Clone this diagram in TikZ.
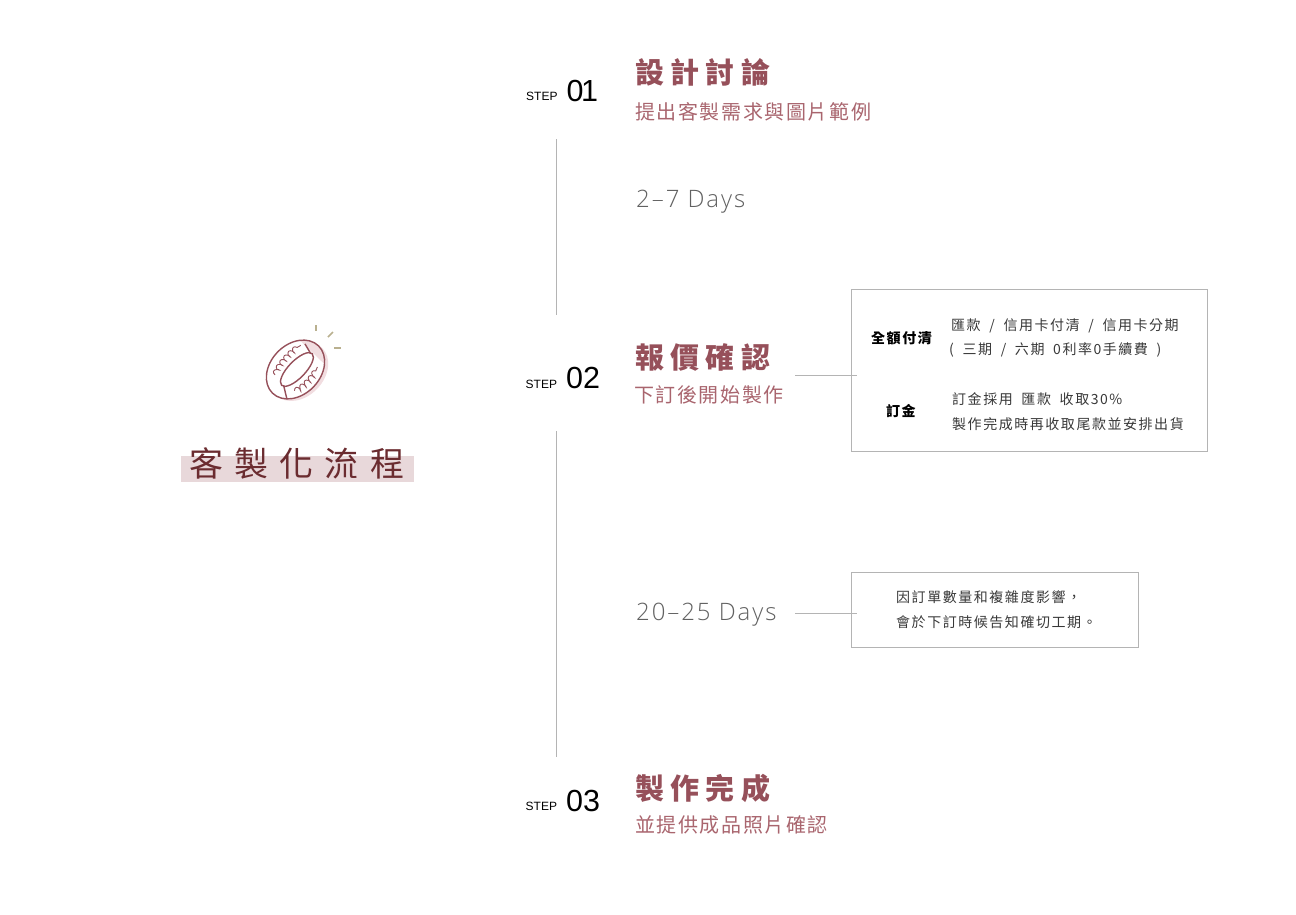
\documentclass[tikz,border=0pt]{standalone}
\usepackage{fontspec}
\usetikzlibrary{decorations.pathmorphing}
\setmainfont{Liberation Sans}
\newfontfamily\cjkhead[LetterSpace=22]{Noto Sans CJK TC}
\newfontfamily\cjksub[LetterSpace=8]{Noto Sans CJK TC}
\newfontfamily\cjkbox[LetterSpace=11]{Noto Sans CJK TC}
\newfontfamily\cjktitle[LetterSpace=33]{Noto Sans CJK TC}
\newfontfamily\daysfont[LetterSpace=8]{Open Sans Light}
\definecolor{wine}{HTML}{96505A}
\definecolor{winelight}{HTML}{A9656E}
\definecolor{winedark}{HTML}{6B2C30}
\definecolor{band}{HTML}{E8D8DA}
\definecolor{rule}{HTML}{B4B4B4}
\definecolor{ringpink}{HTML}{F1DDE0}
\definecolor{spark}{HTML}{B9B08F}
\tikzset{
  txt/.style={inner sep=0pt,anchor=west},
  steplab/.style={txt,font=\fontsize{12}{12}\selectfont},
  stepnum/.style={txt,font=\fontsize{30.5}{30}\selectfont},
  headlab/.style={txt,text=wine,font=\cjkhead\bfseries\fontsize{29}{29}\selectfont},
  sublab/.style={txt,text=winelight,font=\cjksub\fontsize{20}{20}\selectfont},
  dayslab/.style={txt,text=black!62,font=\daysfont\fontsize{24}{24}\selectfont},
  boxlab/.style={txt,text=black!78,font=\cjkbox\fontsize{14}{14}\selectfont},
  boxhead/.style={txt,font=\cjkbox\bfseries\fontsize{14}{14}\selectfont},
  framebox/.style={draw=rule,line width=.9pt},
  ruleline/.style={draw=rule,line width=1pt},
  thinline/.style={draw=rule,line width=.7pt},
  ringline/.style={draw=wine,line width=1.4pt},
  wavy/.style={wine,line width=.9pt,decorate,decoration={coil,aspect=.5,segment length=6pt,amplitude=2.6pt}},
}
\newcommand{\gap}{\hspace{4pt}}
\begin{document}
\begin{tikzpicture}[x=1pt,y=-1pt]
    \useasboundingbox (0,0) rectangle (1296,914);

    % left side
    \fill [band] (181,456) rectangle (414,482);
    \node [txt,text=winedark,font=\cjktitle\fontsize{34}{34}\selectfont] (title) at (189,463) {客製化流程};

    % ring
    \begin{scope}[shift={(295.5,369.5)},rotate=46]
        \fill [ringpink] (1,4) ellipse (33 and 25);
        \fill [white] (0,0) ellipse (33 and 25);
        \begin{scope}
            \clip (0,0) ellipse (33 and 25);
            \fill [ringpink] (24,-25) rectangle (35,25);
        \end{scope}
        \draw [ringline] (0,0) ellipse (33 and 25);
        \draw [ringline,fill=white] (1,1) ellipse (22 and 8.5);
        \draw [ringline] (25,-11) -- (22,0);
        \draw [ringline] (-27,14) -- (-20,3);
        \draw [wavy] (-18,-11) .. controls (-8,-16) and (10,-16) .. (21,-13);
        \draw [wavy] (-16,14) .. controls (-8,18) and (6,18) .. (17,14);
    \end{scope}
    \draw [spark,line width=1.5pt] (316,325) -- (316,331);
    \draw [spark,line width=1.5pt] (328,337) -- (333,332);
    \draw [spark,line width=1.5pt] (334,348) -- (341,348);

    % steps
    \node [steplab] (s1) at (526,96.5) {STEP};
    \node [stepnum] (n1) at (566.5,91) {0\kern-2.5pt 1};
    \node [headlab] (h1) at (635,72) {設計討論};
    \node [sublab]  (d1) at (635,112) {提出客製需求與圖片範例};

    \node [steplab] (s2) at (525.5,384) {STEP};
    \node [stepnum] (n2) at (566,378) {02};
    \node [headlab] (h2) at (635,357) {報價確認};
    \node [sublab]  (d2) at (634,395) {下訂後開始製作};

    \node [steplab] (s3) at (525.5,806.5) {STEP};
    \node [stepnum] (n3) at (566,801) {03};
    \node [headlab] (h3) at (635,788) {製作完成};
    \node [sublab]  (d3) at (635,825) {並提供成品照片確認};

    \node [dayslab] (t1) at (636,202) {2–7 Days};
    \node [dayslab] (t2) at (636,615) {20–25 Days};

    % time lines
    \coordinate (a1) at (556.5,139);
    \coordinate (a2) at (556.5,315);
    \coordinate (b1) at (556.5,431);
    \coordinate (b2) at (556.5,757);
    \draw [ruleline] (a1) -- (a2);
    \draw [ruleline] (b1) -- (b2);

    % boxes
    \node [framebox,minimum width=356pt,minimum height=161.5pt,inner sep=0pt,anchor=north west] (pay) at (851,289) {};
    \node [framebox,minimum width=287pt,minimum height=75pt,inner sep=0pt,anchor=north west] (note) at (851,572) {};

    \node [boxhead] (pa) at (871,338) {全額付清};
    \node [boxlab]  (pb) at (951,325.5) {匯款\gap{} /\gap{} 信用卡付清\gap{} /\gap{} 信用卡分期};
    \node [boxlab]  (pc) at (949,349.5) {(\gap{} 三期\gap{} /\gap{} 六期\gap{} 0利率0手續費\gap{} )};
    \node [boxhead] (pd) at (886,411) {訂金};
    \node [boxlab]  (pe) at (952,399.5) {訂金採用\gap{} 匯款\gap{} 收取30\%};
    \node [boxlab]  (pf) at (952,424.5) {製作完成時再收取尾款並安排出貨};
    \node [boxlab]  (na) at (896,597) {因訂單數量和複雜度影響，};
    \node [boxlab]  (nb) at (896,622) {會於下訂時候告知確切工期。};

    % leaders
    \coordinate (c1) at (795,375.5);
    \coordinate (c2) at (857,375.5);
    \coordinate (e1) at (795,613);
    \coordinate (e2) at (857,613);
    \draw [thinline] (c1) -- (c2);
    \draw [thinline] (e1) -- (e2);
\end{tikzpicture}
\end{document}
